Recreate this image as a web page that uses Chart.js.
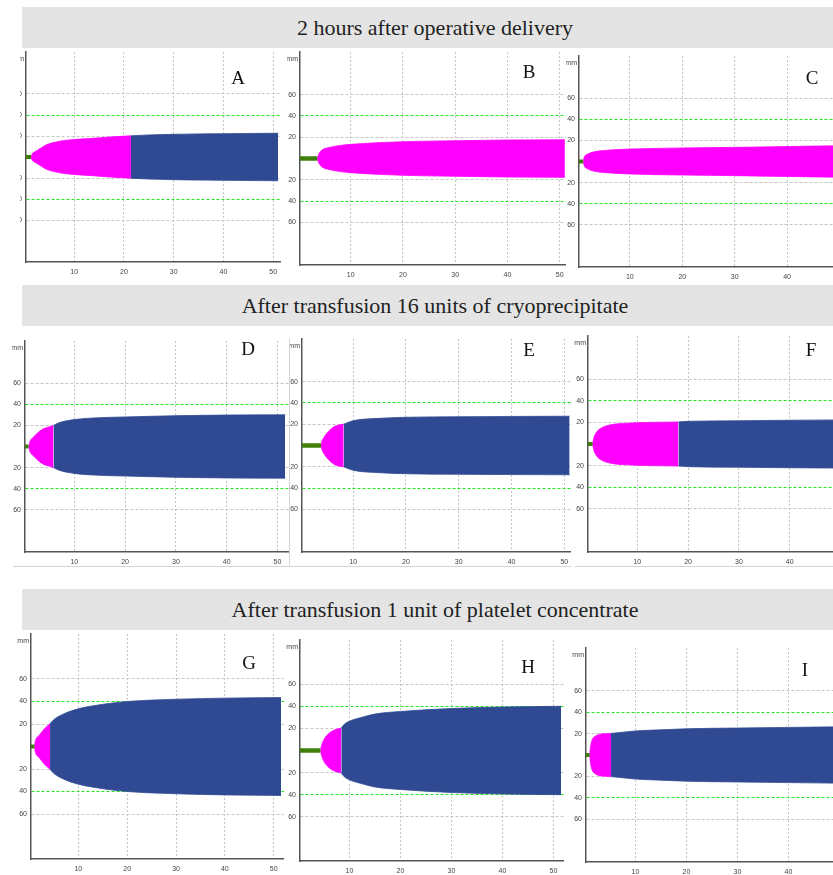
<!DOCTYPE html>
<html>
<head>
<meta charset="utf-8">
<script src="https://cdn.jsdelivr.net/npm/chart.js@4.4.1/dist/chart.umd.min.js"></script>
<style>
html, body { margin: 0; padding: 0; background: #fff; }
#page { position: relative; width: 833px; height: 875px; overflow: hidden; background: #fff; }
.band { position: absolute; left: 22px; width: 826px; background: #e4e4e4; font-family: "Liberation Serif", serif; font-size: 22px; color: #222; text-align: center; }
.panel { position: absolute; overflow: hidden; }
.panel canvas { position: absolute; }
.letter { position: absolute; font-family: "Liberation Serif", serif; font-size: 19px; color: #111; transform: translate(-50%, -50%); line-height: 1; }
.rule { position: absolute; background: #d4d4d4; }
</style>
</head>
<body>
<div id="page"></div>
<script>
// Section titles and panel names
const headers = [
    '2 hours after operative delivery',
    'After transfusion 16 units of cryoprecipitate',
    'After transfusion 1 unit of platelet concentrate'
];
const panelNames = ['A', 'B', 'C', 'D', 'E', 'F', 'G', 'H', 'I'];

// Axis ticks
const xTickValues = [10, 20, 30, 40, 50];
const yTickValues = [-60, -40, -20, 20, 40, 60];
const yTickLabels = ['60', '40', '20', '20', '40', '60'];

// R time (end of flat green trace) and K time (pink -> blue), minutes
const rTime = [1.3, 3.6, 1.1, 1.0, 3.9, 1.2, 1.0, 4.3, 1.0];
const kTime = [21.4, null, null, 5.9, 8.2, 18.1, 4.2, 8.4, 5.2];

// Trace half-width (mm) over time (min) for each panel
const timeA = [1.3, 1.5, 2.3, 3.3, 4.3, 6.3, 8.3, 10.3, 13.7, 17, 21.4, 25, 30, 35, 40, 45, 51];
const ampA  = [0, 2.5, 5.5, 8.5, 11.4, 14.3, 15.9, 16.8, 17.8, 19, 20.2, 21, 21.6, 22, 22.2, 22.4, 22.6];
const timeB = [3.6, 3.8, 4.1, 4.7, 5.6, 6.6, 8, 10, 15, 20, 30, 40, 51];
const ampB  = [0, 3, 5.8, 8.6, 10, 11.1, 12.3, 13.3, 14.8, 15.8, 16.7, 17.4, 17.7];
const timeC = [1.1, 1.3, 2, 3, 5, 10, 20, 30, 40, 50];
const ampC  = [0, 4, 7, 9, 10.4, 11.8, 12.8, 13.4, 14.2, 14.9];
const timeD = [1, 1.3, 2, 3, 4, 5, 5.9, 7, 10, 15, 20, 30, 40, 51.5];
const ampD  = [0, 5, 9, 13.8, 17, 18.5, 20, 22.5, 25.5, 27.3, 28, 29.2, 29.8, 30];
const timeE = [3.9, 4.1, 4.5, 5.5, 6.5, 7.5, 8.2, 10, 15, 20, 30, 40, 51];
const ampE  = [0, 4, 8, 14.2, 18, 19.5, 20, 23.3, 25.5, 26.5, 27, 27.3, 27.5];
const timeF = [1.2, 1.4, 2, 3, 5, 8, 12, 18.1, 20, 30, 40, 50];
const ampF  = [0, 5, 11, 15, 18, 19.3, 20, 20.4, 21, 21.5, 22, 22.3];
const timeG = [1, 1.2, 2, 3, 4.2, 5, 7, 10, 15, 20, 30, 40, 51.5];
const ampG  = [0, 5, 10, 15.5, 20.3, 24, 29, 33.5, 37.5, 40, 42, 43, 43.5];
const timeH = [4.3, 4.5, 5, 6, 7, 8.4, 9, 10, 12.8, 15, 20, 30, 40, 51.5];
const ampH  = [0, 4, 10, 15.5, 18.5, 20.3, 23.8, 26.5, 30.5, 33, 35.3, 38, 39.3, 40];
const timeI = [1, 1.2, 1.5, 2.1, 3.1, 5.2, 7, 10, 15, 20, 30, 40, 50];
const ampI  = [0, 8, 14, 17.5, 19.5, 20.2, 21, 22.5, 23.5, 24.5, 25.2, 25.8, 26.3];

const traceTimes = [timeA, timeB, timeC, timeD, timeE, timeF, timeG, timeH, timeI];
const traceAmps = [ampA, ampB, ampC, ampD, ampE, ampF, ampG, ampH, ampI];

// Page layout: clip box [l, t, r, b], plot area, px per minute, letter position
const bandTops = [7, 285, 589];
const panelLayout = [
    { clip: [20, 49, 281, 285],  axisLeft: 26,  top: 52,  bottom: 262, ppu: 4.975, letter: [238, 77] },
    { clip: [287, 49, 566, 285], axisLeft: 300, top: 52,  bottom: 265, ppu: 5.23,  letter: [529, 71] },
    { clip: [566, 49, 833, 285], axisLeft: 579, top: 56,  bottom: 267, ppu: 5.24,  letter: [812, 77] },
    { clip: [12, 327, 289, 566], axisLeft: 25,  top: 341, bottom: 552, ppu: 5.08,  letter: [248, 348] },
    { clip: [290, 327, 571, 566], axisLeft: 302, top: 339, bottom: 552, ppu: 5.28, letter: [529, 349] },
    { clip: [573, 327, 833, 566], axisLeft: 588, top: 336, bottom: 552, ppu: 5.08, letter: [811, 349] },
    { clip: [15, 631, 284, 875], axisLeft: 31,  top: 634, bottom: 859, ppu: 4.88,  letter: [249, 662] },
    { clip: [285, 631, 564, 875], axisLeft: 300, top: 640, bottom: 861, ppu: 5.1,  letter: [528, 666] },
    { clip: [566, 631, 833, 875], axisLeft: 586, top: 648, bottom: 862, ppu: 5.09, letter: [805, 669] }
];

const PINK = '#ff00ff';
const BLUE = '#2f4992';
const STUB = '#3f7f0a';
const GRID = '#c6c6c6';
const GRID_GREEN = '#22e622';
const TICK_FONT = '"Liberation Sans Narrow", "Liberation Sans", sans-serif';

const X_MIN = 0.3;
const X_VIEW = 56;
const Y_AXIS_W = 30;
const X_AXIS_H = 20;
const PAD_TOP = 10;

const page = document.getElementById('page');

// Grey title bands
headers.forEach(function (text, i) {
    const band = document.createElement('div');
    band.className = 'band';
    band.style.top = bandTops[i] + 'px';
    band.style.height = '41px';
    band.style.lineHeight = '41px';
    band.textContent = text;
    page.appendChild(band);
});

// thin frame lines around the middle row pictures
[[13, 566, 277, 1], [289, 338, 1, 229], [289, 566, 282, 1], [575, 566, 258, 1]].forEach(function (r) {
    const d = document.createElement('div');
    d.className = 'rule';
    d.style.left = r[0] + 'px';
    d.style.top = r[1] + 'px';
    d.style.width = r[2] + 'px';
    d.style.height = r[3] + 'px';
    page.appendChild(d);
});

// 'mm' unit above the y axis
const unitLabel = {
    id: 'unitLabel',
    afterDraw: function (chart) {
        const ctx = chart.ctx;
        ctx.save();
        ctx.font = '7px ' + TICK_FONT;
        ctx.fillStyle = '#444';
        ctx.textAlign = 'right';
        ctx.textBaseline = 'middle';
        ctx.fillText('mm', chart.chartArea.left - 2, chart.chartArea.top + 7);
        ctx.restore();
    }
};

function splitTrace(times, amps, from, to) {
    const up = [], lo = [];
    times.forEach(function (t, i) {
        if (t >= from && t <= to) {
            up.push({ x: t, y: amps[i] });
            lo.push({ x: t, y: -amps[i] });
        }
    });
    return { up: up, lo: lo };
}

function areaPair(part, color) {
    const common = {
        borderColor: color,
        borderWidth: 0.8,
        pointRadius: 0,
        cubicInterpolationMode: 'monotone'
    };
    return [
        Object.assign({ data: part.up, fill: '+1', backgroundColor: color }, common),
        Object.assign({ data: part.lo, fill: false }, common)
    ];
}

panelLayout.forEach(function (p, i) {
    const wrap = document.createElement('div');
    wrap.className = 'panel';
    wrap.style.left = p.clip[0] + 'px';
    wrap.style.top = p.clip[1] + 'px';
    wrap.style.width = (p.clip[2] - p.clip[0]) + 'px';
    wrap.style.height = (p.clip[3] - p.clip[1]) + 'px';
    page.appendChild(wrap);

    const plotW = Math.round((X_VIEW - X_MIN) * p.ppu);
    const plotH = p.bottom - p.top;
    const canvas = document.createElement('canvas');
    canvas.width = Y_AXIS_W + plotW;
    canvas.height = PAD_TOP + plotH + X_AXIS_H;
    canvas.style.left = (p.axisLeft - Y_AXIS_W - p.clip[0]) + 'px';
    canvas.style.top = (p.top - PAD_TOP - p.clip[1]) + 'px';
    canvas.style.width = canvas.width + 'px';
    canvas.style.height = canvas.height + 'px';
    wrap.appendChild(canvas);

    const times = traceTimes[i];
    const amps = traceAmps[i];
    const k = kTime[i] === null ? Infinity : kTime[i];

    const datasets = [{
        data: [{ x: 0, y: 0 }, { x: rTime[i], y: 0 }],
        borderColor: STUB,
        borderWidth: (rTime[i] > 3 ? 4.5 : 4),
        pointRadius: 0,
        fill: false
    }];
    datasets.push.apply(datasets, areaPair(splitTrace(times, amps, 0, k), PINK));
    if (k !== Infinity) {
        datasets.push.apply(datasets, areaPair(splitTrace(times, amps, k, 100), BLUE));
    }

    new Chart(canvas.getContext('2d'), {
        type: 'line',
        data: { datasets: datasets },
        options: {
            responsive: false,
            animation: false,
            devicePixelRatio: 1,
            layout: { padding: { top: PAD_TOP, left: 0, right: 0, bottom: 0 } },
            plugins: { legend: { display: false }, tooltip: { enabled: false } },
            scales: {
                x: {
                    type: 'linear',
                    min: X_MIN,
                    max: X_VIEW,
                    afterBuildTicks: function (scale) {
                        scale.ticks = xTickValues.map(function (v) { return { value: v }; });
                    },
                    afterFit: function (scale) { scale.height = X_AXIS_H; },
                    grid: { color: GRID, lineWidth: 1, drawTicks: false },
                    border: { color: '#555', width: 1.5, dash: [2, 2] },
                    ticks: {
                        font: { family: TICK_FONT, size: 7 },
                        color: '#444',
                        padding: 6,
                        maxRotation: 0,
                        autoSkip: false
                    }
                },
                y: {
                    type: 'linear',
                    min: -100,
                    max: 100,
                    afterBuildTicks: function (scale) {
                        scale.ticks = yTickValues.map(function (v) { return { value: v }; });
                    },
                    afterFit: function (scale) { scale.width = Y_AXIS_W; },
                    grid: {
                        color: function (ctx) {
                            return ctx.tick && Math.abs(ctx.tick.value) === 40 ? GRID_GREEN : GRID;
                        },
                        lineWidth: 1,
                        drawTicks: false
                    },
                    border: { color: '#555', width: 1.5, dash: [3, 2] },
                    ticks: {
                        font: { family: TICK_FONT, size: 7 },
                        color: '#444',
                        padding: 4,
                        autoSkip: false,
                        callback: function (value, index) { return yTickLabels[index]; }
                    }
                }
            }
        },
        plugins: [unitLabel]
    });

    const letter = document.createElement('div');
    letter.className = 'letter';
    letter.style.left = p.letter[0] + 'px';
    letter.style.top = p.letter[1] + 'px';
    letter.textContent = panelNames[i];
    page.appendChild(letter);
});
</script>
</body>
</html>
